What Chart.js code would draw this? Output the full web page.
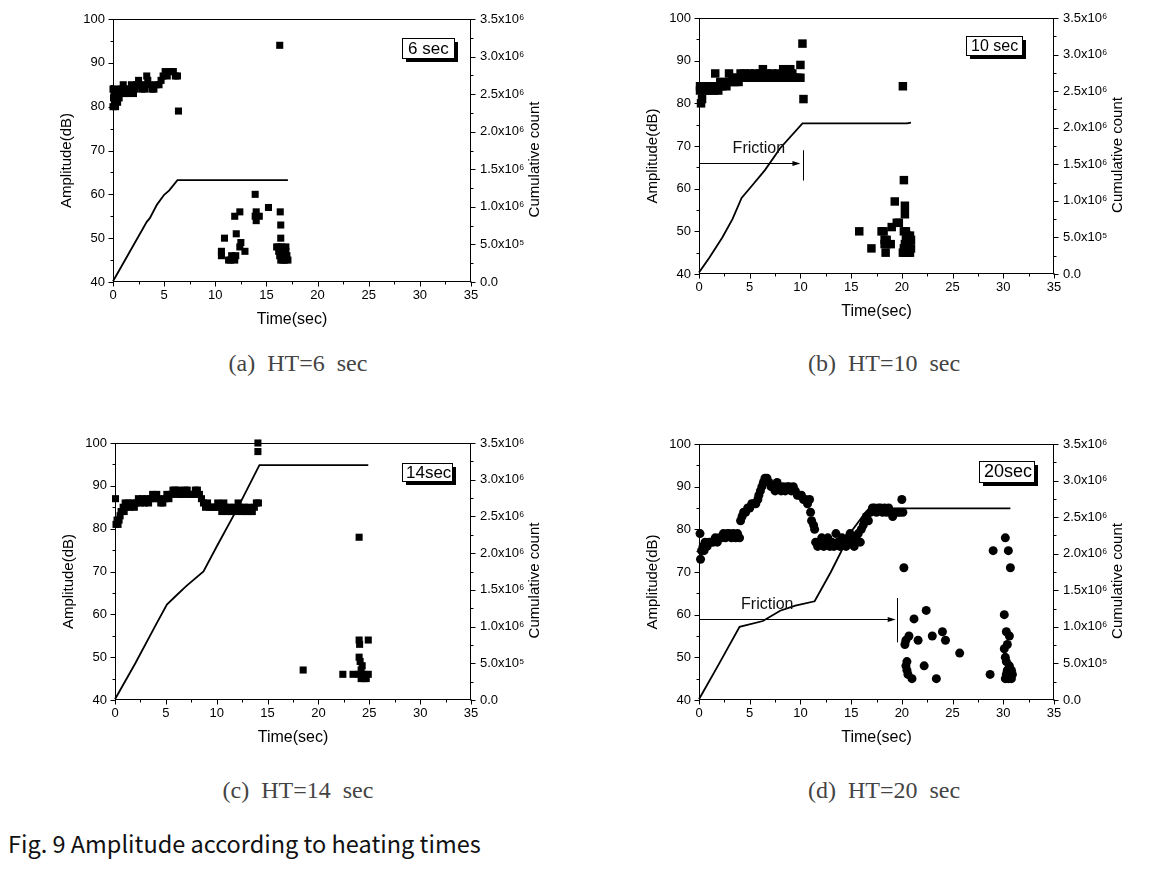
<!DOCTYPE html>
<html><head><meta charset="utf-8">
<script src="https://cdn.jsdelivr.net/npm/chart.js@4.4.1/dist/chart.umd.min.js"></script>
<style>
html,body{margin:0;padding:0;background:#fff;}
body{width:1158px;height:886px;position:relative;overflow:hidden;}
canvas{position:absolute;}
.cap{position:absolute;font-family:"Liberation Serif",serif;font-size:24px;color:#444;white-space:nowrap;word-spacing:6px;transform:translate(-50%,-50%);}
.fig{position:absolute;left:8px;top:843px;transform:translateY(-50%);font-family:"Noto Sans CJK KR","Noto Sans",sans-serif;font-size:23.5px;font-weight:400;color:#111;white-space:nowrap;}
</style></head><body>
<canvas id="ca" width="579" height="345" style="left:0;top:0"></canvas>
<canvas id="cb" width="579" height="345" style="left:579px;top:0"></canvas>
<canvas id="cc" width="579" height="345" style="left:0;top:425px"></canvas>
<canvas id="cd" width="579" height="345" style="left:579px;top:425px"></canvas>
<div class="cap" style="left:298px;top:363px">(a) HT=6 sec</div>
<div class="cap" style="left:884px;top:363px">(b) HT=10 sec</div>
<div class="cap" style="left:298px;top:790px">(c) HT=14 sec</div>
<div class="cap" style="left:884px;top:790px">(d) HT=20 sec</div>
<div class="fig">Fig. 9 Amplitude according to heating times</div>
<script>
// ---------- tick values and labels ----------
const xTicks = [0,5,10,15,20,25,30,35];
const ampTicks = [40,50,60,70,80,90,100];
const cumTicks = [0,5e5,1e6,1.5e6,2e6,2.5e6,3e6,3.5e6];
const cumTickLabels = ['0.0','5.0x10\u2075','1.0x10\u2076','1.5x10\u2076','2.0x10\u2076','2.5x10\u2076','3.0x10\u2076','3.5x10\u2076'];
const xTitle = 'Time(sec)';
const yTitle = 'Amplitude(dB)';
const y2Title = 'Cumulative count';

// ---------- (a) HT = 6 sec ----------
const timeA = [0,0,0.05,0.1,0.15,0.25,0.3,0.35,0.45,0.5, 0.6,0.7,0.8,0.9,1.0,1.1,1.2,1.4,1.5,1.7, 1.8,2.0,2.1,2.3,2.5,2.6,2.8,3.0,3.1,3.3, 3.4,3.6,3.8,4.0,4.2,4.5,4.7,4.9,5.1,5.3, 5.5,5.7,5.9,6.1,6.3,6.4,
  10.6,10.6,10.9,11.3,11.5,11.6,11.9,11.9,12.0,12.05, 12.4,12.4,12.5,12.9,13.9,13.9,14.0,14.0,14.3,15.2, 16.3,16.35,16.4,16.4,16.0,16.2,16.3,16.4,16.5,16.6, 16.7,16.8,16.9,17.0,17.1,16.6,16.9,16.2];
const ampA = [80,84,82,83,81,80,84,82,81,83, 82,84,83,84,85,84,83,84,83,84, 85,83,84,85,86,85,84,85,84,87, 86,85,84,84,85,85,86,87,88,87, 88,88,88,87,87,79,
  47,46,50,45,45,46,55,45,46,51, 56,48,49,47,60,55,56,54,55,57, 94,56,53,50,48,47,46,45,48,47, 46,45,47,46,45,45,48,48];
const lineTimeA = [0,1.5,3.3,3.6,4.3,5.0,5.5,6.3,17.1];
const cumA = [0.01e6,0.37e6,0.8e6,0.85e6,1.03e6,1.16e6,1.22e6,1.355e6,1.355e6];

// ---------- (b) HT = 10 sec ----------
const timeB = [0.1,0.1,0.2,0.3,0.4,0.5,0.7,0.9,1.1,1.3, 1.5,1.6,1.7,1.9,2.1,2.3,2.5,2.7,2.96,3.1, 3.3,3.5,3.7,3.9,4.1,4.3,4.5,4.8,5.0,5.3, 5.5,5.8,6.0,6.3,6.5,6.7,7.0,7.2,7.5,7.8, 8.0,8.3,8.5,8.8,9.0,9.2,9.4,9.7,10.0,10.0, 10.2,10.3,
  15.8,17.0,18.0,18.2,18.3,18.3,18.4,18.5,18.5,18.9, 19.0,19.3,19.5,19.7,20.1,20.2,20.3,20.3,20.2,20.1, 20.2,20.3,20.4,20.5,20.5,20.6,20.7,20.8,20.8,20.9, 20.9,20.4,20.6,20.3];
const ampB = [83,84,80,81,83,84,83,84,83,84, 83,87,84,83,85,84,85,84,87,85, 86,85,86,85,87,86,87,86,87,86, 87,86,87,88,86,87,86,87,86,87, 86,88,87,86,88,87,86,86,86,89, 94,81,
  50,46,50,50,48,47,45,48,47,47, 51,57,52,52,84,62,56,54,50,45, 46,47,48,49,45,46,47,49,45,46, 48,50,45,45];
const lineTimeB = [0,1,2.3,3.3,4.2,5.3,6.5,8,10.2,20.5,20.9];
const cumB = [0.02e6,0.22e6,0.5e6,0.75e6,1.04e6,1.22e6,1.42e6,1.72e6,2.06e6,2.06e6,2.07e6];

// ---------- (c) HT = 14 sec ----------
const timeC = [0.05,0.1,0.2,0.3,0.4,0.5,0.6,0.8,0.9,1.0, 1.1,1.3,1.5,1.7,1.9,2.1,2.3,2.5,2.7,2.9, 3.1,3.3,3.5,3.7,3.9,4.1,4.3,4.5,4.7,4.9, 5.1,5.3,5.5,5.7,5.9,6.1,6.3,6.5,6.7,6.9, 7.1,7.3,7.5,7.7,7.9,8.1,8.3,8.5,8.7,8.9, 9.1,9.3,9.5,9.7,9.9,10.1,10.3,10.5,10.7,10.9, 11.1,11.3,11.5,11.7,11.9,12.1,12.3,12.5,12.7,12.9, 13.1,13.3,13.5,13.7,13.9,14.05,14.05,14.1,
  18.5,22.4,23.4,24.0,24.0,24.05,24.0,24.1,24.3,24.2, 24.0,24.2,24.4,24.5,24.7,24.9,24.9];
const ampC = [87,81,82,81,82,83,84,85,84,86, 85,86,85,86,85,86,87,86,87,86, 87,86,87,88,87,88,87,86,86,87, 88,87,88,89,89,88,89,88,88,89, 89,88,88,88,89,89,88,87,86,85, 86,85,85,85,85,86,85,84,86,85, 84,85,84,85,84,86,85,84,85,84, 85,84,84,85,86,98,100,86,
  47,46,46,78,54,53,50,49,48,47, 46,45,46,45,45,46,54];
const lineTimeC = [0,2,4,5.1,6,7,8.7,10,12,14.2,24.9];
const cumC = [0.01e6,0.5e6,1.02e6,1.3e6,1.42e6,1.55e6,1.75e6,2.09e6,2.6e6,3.2e6,3.2e6];

// ---------- (d) HT = 20 sec ----------
const timeD = [0.1,0.15,0.25,0.4,0.5,0.6,0.8,1.0,1.2,1.4, 1.6,1.8,2.0,2.2,2.4,2.6,2.8,3.0,3.2,3.4, 3.6,3.8,4.0,4.1,4.25,4.4,4.6,4.8,5.0,5.2, 5.4,5.6,5.8,5.9,6.05,6.2,6.35,6.5,6.7,6.9, 7.1,7.3,7.5,7.7,7.9,8.1,8.3,8.5,8.7,8.9, 9.1,9.3,9.5,9.7,9.9,10.1,10.3,10.5,10.7,10.9, 11.0,11.1,11.3,11.4,11.5,11.7,11.9,12.1,12.3,12.5, 12.7,12.9,13.1,13.3,13.5,13.7,13.9,14.1,14.3,14.5, 14.7,14.9,15.1,15.3,15.5,15.7,15.9,16.0,16.2,16.3, 16.5,16.7,16.9,17.1,17.3,17.5,17.7,17.9,18.1,18.3, 18.5,18.7,18.9,19.1,19.3,19.6,19.8,20.0,20.1,
  20.2,20.3,20.4,20.7,21.2,21.6,22.4,23.0,24.0,24.3, 25.7,20.5,20.4,20.5,20.6,21.0,22.2,23.4,28.7,29.0, 30.2,30.5,30.7,30.1,30.3,30.6,30.4,30.1,30.2,30.3, 30.6,30.8,30.3,30.5,30.8,30.2,30.6,30.9,30.4];
const ampD = [79,73,75,76,75,77,76,77,77,77, 78,77,78,78,79,78,79,79,78,79, 78,79,78,82,83,84,84,85,85,86, 86,86,87,88,89,90,91,92,92,91, 90,90,89,91,90,89,90,89,90,90, 89,90,89,88,88,88,87,87,86,87, 84,82,81,80,77,76,77,78,76,77, 78,76,77,76,79,77,76,78,77,76, 78,79,77,76,78,79,77,80,81,82, 83,82,84,85,85,84,85,85,84,85, 84,85,84,83,84,84,84,87,84,
  71,53,54,55,59,54,61,55,56,54, 51,49,48,47,46,45,48,45,46,75, 78,75,71,60,56,55,53,52,50,49, 48,47,46,45,45,45,46,46,47];
const lineTimeD = [0,2,4,6.3,8,9.5,11.4,13,15,16.5,17.5,30.7];
const cumD = [0.01e6,0.5e6,1.0e6,1.08e6,1.22e6,1.29e6,1.35e6,1.75e6,2.3e6,2.58e6,2.62e6,2.62e6];

// ---------- layout / style ----------
const FONT = '"Liberation Sans", Arial, sans-serif';
const panels = [
  {id:'ca', area:{l:113,t:19,r:471,b:282}, time:timeA, amp:ampA, lt:lineTimeA, cum:cumA, style:'rect', radius:5,
   box:{text:'6 sec', dx:289, dy:19, w:52, h:20, size:17, pad:6}, friction:null},
  {id:'cb', area:{l:120,t:18,r:475,b:274}, time:timeB, amp:ampB, lt:lineTimeB, cum:cumB, style:'rect', radius:6,
   box:{text:'10 sec', dx:267, dy:18, w:56, h:19, size:16, pad:5},
   friction:{y:66, x1:10.0, vx:10.27, vy0:61.9, vy1:69, tx:5.9, ty:69.4}},
  {id:'cc', area:{l:115,t:18,r:471,b:275}, time:timeC, amp:ampC, lt:lineTimeC, cum:cumC, style:'rect', radius:5,
   box:{text:'14sec', dx:287, dy:20, w:50, h:18, size:17, pad:4}, friction:null},
  {id:'cd', area:{l:120,t:19,r:475,b:275}, time:timeD, amp:ampD, lt:lineTimeD, cum:cumD, style:'circle', radius:4.5,
   box:{text:'20sec', dx:280, dy:17, w:55, h:21, size:18, pad:5},
   friction:{y:59, x1:19.39, vx:19.52, vy0:53.5, vy1:63.9, tx:6.73, ty:62.3}}
];

const deco = {
  id:'deco',
  afterDraw(chart, args, o){
    const ctx = chart.ctx, a = chart.chartArea;
    const xs = chart.scales.x, yl = chart.scales.y, yr = chart.scales.y2;
    ctx.save();
    ctx.strokeStyle = '#000'; ctx.fillStyle = '#000'; ctx.lineWidth = 1;
    const L = Math.round(a.left)+0.5, R = Math.round(a.right)-0.5, T = Math.round(a.top)+0.5, B = Math.round(a.bottom)-0.5;
    ctx.strokeRect(L, T, R-L, B-T);
    ctx.beginPath();
    const mid = (arr,i)=>(arr[i]+arr[i+1])/2;
    xTicks.forEach((v,i)=>{
      const p = Math.round(xs.getPixelForValue(v))+0.5;
      ctx.moveTo(p,B); ctx.lineTo(p,B+5);
      if(i<xTicks.length-1){ const m=Math.round(xs.getPixelForValue(mid(xTicks,i)))+0.5; ctx.moveTo(m,B); ctx.lineTo(m,B+3); }
    });
    ampTicks.forEach((v,i)=>{
      const p = Math.round(yl.getPixelForValue(v))+0.5;
      ctx.moveTo(L,p); ctx.lineTo(L-5,p);
      if(i<ampTicks.length-1){ const m=Math.round(yl.getPixelForValue(mid(ampTicks,i)))+0.5; ctx.moveTo(L,m); ctx.lineTo(L-3,m); }
    });
    cumTicks.forEach((v,i)=>{
      const p = Math.round(yr.getPixelForValue(v))+0.5;
      ctx.moveTo(R,p); ctx.lineTo(R+5,p);
      if(i<cumTicks.length-1){ const m=Math.round(yr.getPixelForValue(mid(cumTicks,i)))+0.5; ctx.moveTo(R,m); ctx.lineTo(R+3,m); }
    });
    ctx.stroke();
    // axis titles
    ctx.textAlign='center'; ctx.textBaseline='middle';
    ctx.font = '16px ' + FONT;
    ctx.fillText(xTitle, (a.left+a.right)/2, a.bottom+38);
    ctx.font = '15px ' + FONT;
    const cy = (a.top+a.bottom)/2;
    ctx.save(); ctx.translate(a.left-46, cy+10); ctx.rotate(-Math.PI/2); ctx.fillText(yTitle,0,0); ctx.restore();
    ctx.save(); ctx.translate(a.right+64, cy+9); ctx.rotate(-Math.PI/2); ctx.fillText(y2Title,0,0); ctx.restore();
    // label box
    const b = o.box;
    if(b){
      const bx = Math.round(a.left+b.dx), by = Math.round(a.top+b.dy);
      ctx.fillStyle='#000'; ctx.fillRect(bx+4, by+4, b.w, b.h);
      ctx.fillStyle='#fff'; ctx.fillRect(bx, by, b.w, b.h);
      ctx.strokeRect(bx+0.5, by+0.5, b.w, b.h);
      ctx.fillStyle='#000'; ctx.font = b.size+'px '+FONT; ctx.textAlign='left';
      ctx.fillText(b.text, bx+b.pad, by+b.h/2+1);
    }
    // friction annotation
    const f = o.friction;
    if(f){
      const y = Math.round(yl.getPixelForValue(f.y))+0.5, x0 = xs.getPixelForValue(0), x1 = xs.getPixelForValue(f.x1);
      ctx.beginPath(); ctx.moveTo(x0,y); ctx.lineTo(x1-6,y); ctx.stroke();
      ctx.beginPath(); ctx.moveTo(x1,y); ctx.lineTo(x1-8,y-2.5); ctx.lineTo(x1-8,y+2.5); ctx.closePath(); ctx.fill();
      const vx = Math.round(xs.getPixelForValue(f.vx))+0.5;
      ctx.beginPath(); ctx.moveTo(vx, yl.getPixelForValue(f.vy0)); ctx.lineTo(vx, yl.getPixelForValue(f.vy1)); ctx.stroke();
      ctx.font='16px '+FONT; ctx.textAlign='center'; ctx.fillStyle='#111';
      ctx.fillText('Friction', xs.getPixelForValue(f.tx), yl.getPixelForValue(f.ty));
    }
    ctx.restore();
  }
};

const W = 579, H = 345;
panels.forEach(P=>{
  const A = P.area;
  const pts = P.time.map((t,i)=>({x:t, y:P.amp[i]}));
  const line = P.lt.map((t,i)=>({x:t, y:P.cum[i]}));
  new Chart(document.getElementById(P.id), {
    type:'scatter',
    data:{datasets:[
      {data:line, yAxisID:'y2', showLine:true, borderColor:'#000', borderWidth:1.8, pointRadius:0, tension:0, clip:false},
      {data:pts, yAxisID:'y', pointStyle:P.style, pointRadius:P.radius, pointBackgroundColor:'#000', pointBorderWidth:0, backgroundColor:'#000', clip:false}
    ]},
    options:{
      responsive:false, animation:false, devicePixelRatio:1,
      layout:{padding:{top:A.t, left:0, right:0, bottom:0}},
      plugins:{legend:{display:false}, tooltip:{enabled:false}, deco:{box:P.box, friction:P.friction}},
      scales:{
        x:{type:'linear', min:0, max:35, position:'bottom',
           afterBuildTicks:s=>{s.ticks = xTicks.map(v=>({value:v}));},
           afterFit:s=>{s.height = H - A.b;},
           grid:{display:false, drawTicks:false}, border:{display:false},
           ticks:{padding:6, autoSkip:false, maxRotation:0, color:'#000', font:{family:FONT, size:13}}},
        y:{type:'linear', min:40, max:100, position:'left',
           afterBuildTicks:s=>{s.ticks = ampTicks.map(v=>({value:v}));},
           afterFit:s=>{s.width = A.l;},
           grid:{display:false, drawTicks:false}, border:{display:false},
           ticks:{padding:8, color:'#000', font:{family:FONT, size:13}}},
        y2:{type:'linear', min:0, max:3.5e6, position:'right',
           afterBuildTicks:s=>{s.ticks = cumTicks.map(v=>({value:v}));},
           afterFit:s=>{s.width = W - A.r;},
           grid:{display:false, drawTicks:false}, border:{display:false},
           ticks:{padding:9, color:'#000', font:{family:FONT, size:13}, callback:(v,i)=>cumTickLabels[i]}}
      }
    },
    plugins:[deco]
  });
});
</script>
</body></html>
